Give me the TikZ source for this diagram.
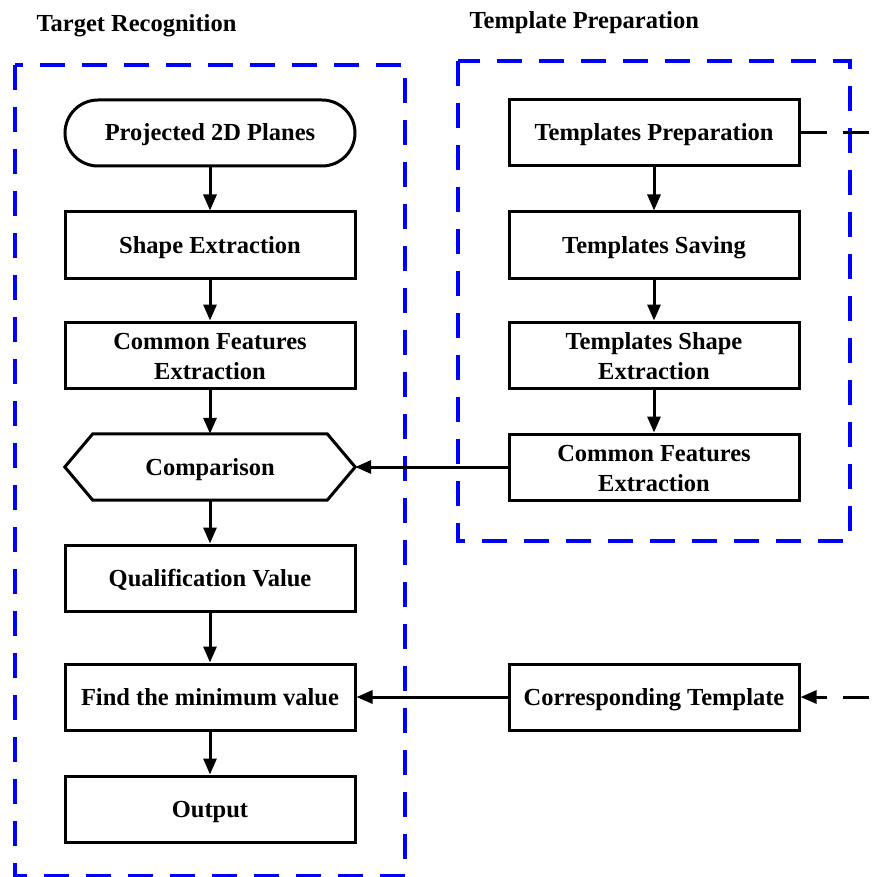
\documentclass[tikz,border=0pt]{standalone}
\usepackage{fontspec}
\setmainfont{Liberation Serif}
\usetikzlibrary{arrows.meta}
\definecolor{boxblue}{RGB}{0,0,255}
\newcommand{\firstline}{\rule{0pt}{25pt}}
\tikzset{
  every node/.style={font=\fontsize{24.5}{30}\selectfont\bfseries, align=center},
  struts/.style={execute at begin node=\rule{0pt}{23pt}, execute at end node=\rule[-7pt]{0pt}{7pt}},
  nostruts/.style={execute at begin node={}, execute at end node={}},
  procbox/.style={draw=black, line width=3pt, minimum width=290pt, minimum height=66pt, inner sep=0pt, fill=white, struts},
  twobox/.style={procbox, nostruts},
  startbox/.style={procbox, rounded corners=33pt},
  plainbox/.style={draw=none, minimum width=290pt, minimum height=66pt, inner sep=0pt, struts},
  flow/.style={line width=3pt, -{Triangle[length=16pt,width=13pt]}},
  group/.style={draw=boxblue, line width=3.2pt, dash pattern=on 25pt off 17pt},
  link/.style={line width=3pt, dash pattern=on 26pt off 16pt},
  title/.style={anchor=base west, font=\fontsize{24.5}{30}\selectfont\bfseries}
}
\begin{document}
\begin{tikzpicture}[x=1pt,y=-1pt]
\useasboundingbox (0,0) rectangle (877,877);
% groups
\draw[group] (15,65) rectangle (405,876);
\draw[group] (458,61) rectangle (850,541);
\node[title] (t1) at (33,32) {Target Recognition};
\node[title] (t2) at (466,29) {Template Preparation};
% left column
\node[startbox] (p2d) at (210,133) {Projected 2D Planes};
\node[procbox] (se) at (210,245) {Shape Extraction};
\node[twobox] (cfe) at (210,355) {\firstline Common Features\\Extraction};
\node[plainbox] (cmp) at (210,467) {Comparison};
\draw[line width=3pt] (cmp.west) -- ([xshift=28pt]cmp.north west) -- ([xshift=-28pt]cmp.north east) -- (cmp.east) -- ([xshift=-28pt]cmp.south east) -- ([xshift=28pt]cmp.south west) -- cycle;
\node[procbox] (qv) at (210,578) {Qualification Value};
\node[procbox] (fmv) at (210,697) {Find the minimum value};
\node[procbox] (out) at (210,809) {Output};
% right column
\node[procbox] (tp) at (654,133) {Templates Preparation};
\node[procbox] (ts) at (654,245) {Templates Saving};
\node[twobox] (tse) at (654,355) {\firstline Templates Shape\\Extraction};
\node[twobox] (tcfe) at (654,467) {\firstline Common Features\\Extraction};
\node[procbox] (ct) at (654,697) {Corresponding Template};
% flows
\draw[flow] (p2d) -- (se);
\draw[flow] (se) -- (cfe);
\draw[flow] (cfe) -- (cmp.north);
\draw[flow] (cmp.south) -- (qv);
\draw[flow] (qv) -- (fmv);
\draw[flow] (fmv) -- (out);
\draw[flow] (tp) -- (ts);
\draw[flow] (ts) -- (tse);
\draw[flow] (tse) -- (tcfe);
\draw[flow] (tcfe) -- (cmp.east);
\draw[flow] (ct) -- (fmv);
% off-page link
\coordinate (oa) at (877,133);
\coordinate (ob) at (877,697);
\draw[link] (tp.east) -- (oa);
\draw[link, dash phase=34pt, -{Triangle[length=16pt,width=13pt]}] (ob) -- (ct.east);
\end{tikzpicture}
\end{document}
